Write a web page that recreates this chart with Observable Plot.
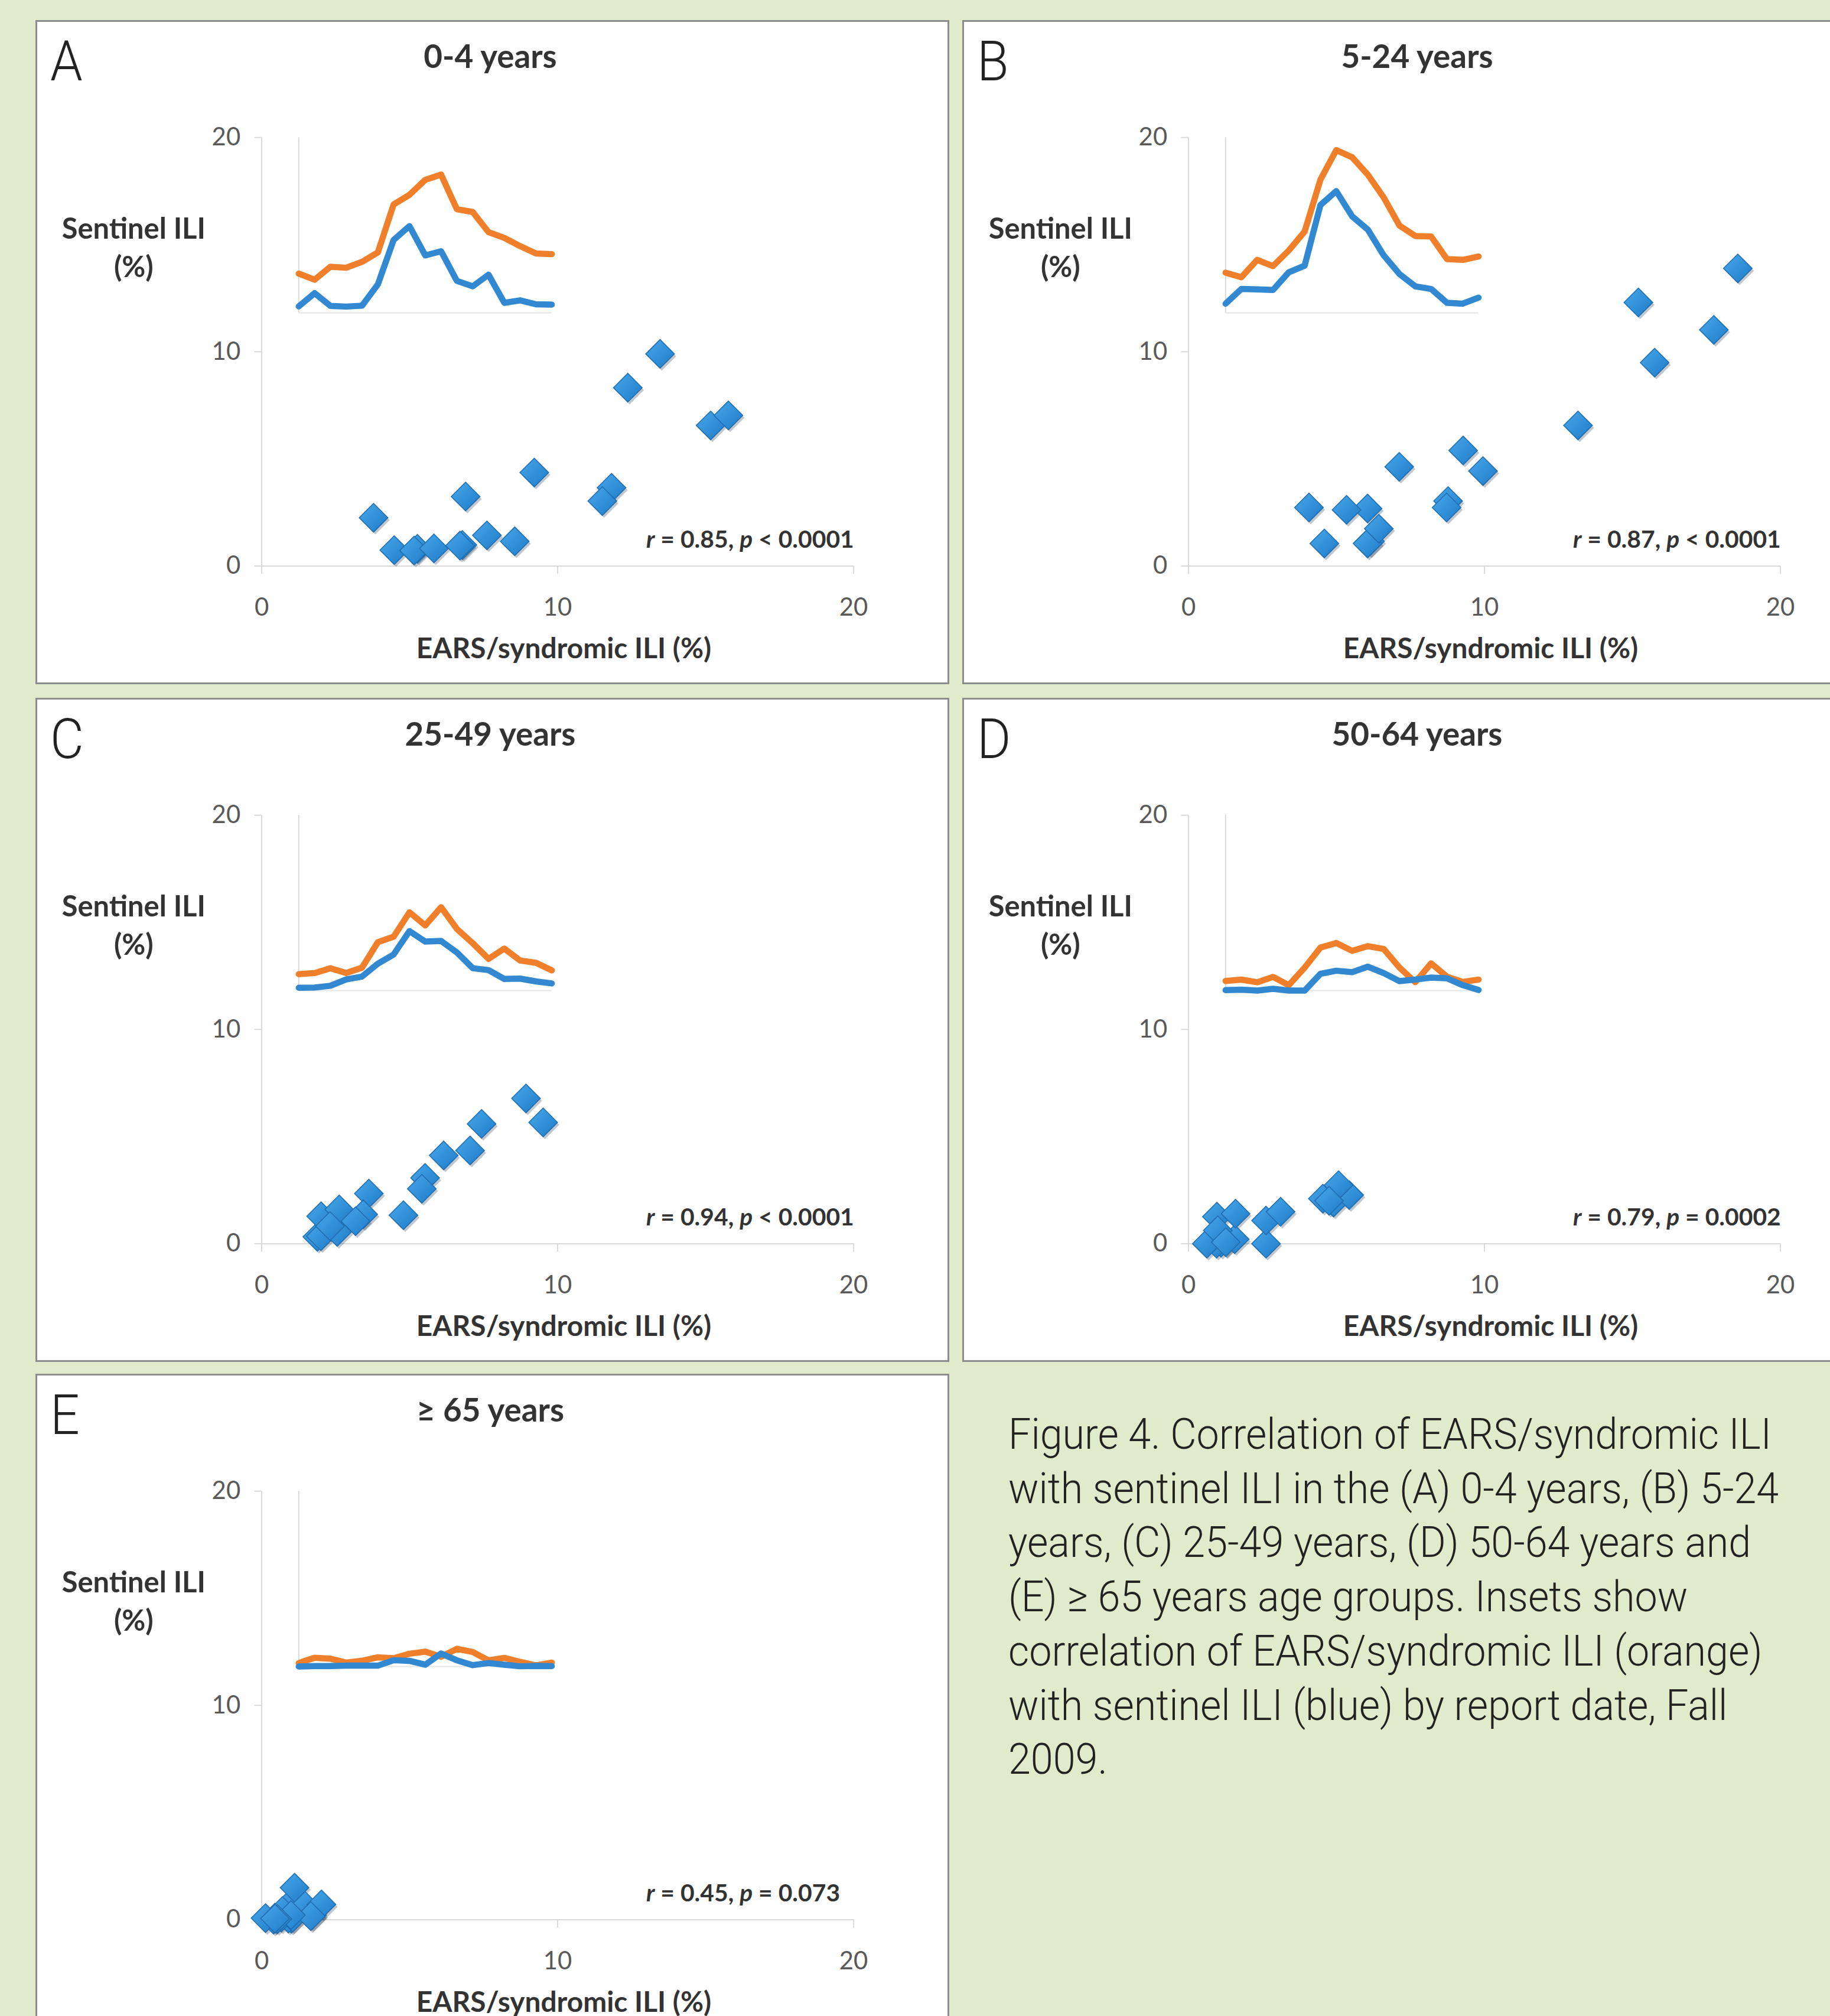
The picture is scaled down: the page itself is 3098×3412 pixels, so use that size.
<!DOCTYPE html>
<html>
<head>
<meta charset="utf-8">
<script src="https://cdn.jsdelivr.net/npm/d3@7"></script>
<script src="https://cdn.jsdelivr.net/npm/@observablehq/plot@0.6"></script>
<style>
  html, body { margin: 0; padding: 0; }
  body { width: 3098px; height: 3412px; background: #dfebca; position: relative; overflow: hidden; }
  .panel { position: absolute; width: 1547px; height: 1124px; background: #ffffff; box-sizing: border-box; border: 3px solid #8c8c8c; }
  .panel svg { position: absolute; left: -3px; top: -3px; }
  #caption { position: absolute; left: 1690px; top: 2330px; }
</style>
</head>
<body>
<svg width="0" height="0" style="position:absolute">
  <defs>
    <linearGradient id="dg" x1="0" y1="0" x2="1" y2="1">
      <stop offset="0%" stop-color="#86c8f4"/>
      <stop offset="22%" stop-color="#3f9de2"/>
      <stop offset="70%" stop-color="#2b89d3"/>
      <stop offset="100%" stop-color="#1a64a8"/>
    </linearGradient>
  </defs>
</svg>
<script>
// ---------- data ----------
const weeks = [1, 2, 3, 4, 5, 6, 7, 8, 9, 10, 11, 12, 13, 14, 15, 16, 17];
const axisTicks = [0, 10, 20];

const panelLetters = ["A", "B", "C", "D", "E"];
const panelTitles = ["0-4 years", "5-24 years", "25-49 years", "50-64 years", "\u2265 65 years"];
const corrR = ["0.85", "0.87", "0.94", "0.79", "0.45"];
const corrP = ["< 0.0001", "< 0.0001", "< 0.0001", "= 0.0002", "= 0.073"];

// EARS/syndromic ILI (%) and sentinel ILI (%) by report week, Fall 2009
const earsA     = [4.48, 3.78, 5.26, 5.15, 5.82, 6.89, 12.37, 13.46, 15.17, 15.77, 11.82, 11.51, 9.21, 8.55, 7.61, 6.78, 6.70];
const sentinelA = [0.74, 2.25, 0.80, 0.72, 0.82, 3.24, 8.32, 9.90, 6.56, 7.03, 3.65, 3.03, 4.36, 1.15, 1.43, 0.98, 0.95];

const earsB     = [4.59, 4.07, 6.05, 5.34, 7.12, 9.28, 15.20, 18.56, 17.75, 15.75, 13.16, 9.95, 8.77, 8.72, 6.13, 6.05, 6.43];
const sentinelB = [1.05, 2.73, 2.68, 2.62, 4.63, 5.39, 12.30, 13.89, 11.02, 9.49, 6.56, 4.43, 3.03, 2.73, 1.15, 1.05, 1.74];

const earsC     = [1.88, 2.00, 2.55, 2.01, 2.62, 5.52, 6.15, 8.93, 7.43, 9.51, 7.04, 5.41, 3.62, 4.79, 3.43, 3.17, 2.31];
const sentinelC = [0.32, 0.35, 0.55, 1.28, 1.60, 3.07, 4.12, 6.78, 5.59, 5.66, 4.35, 2.56, 2.34, 1.33, 1.37, 1.05, 0.82];

const earsD     = [1.10, 1.25, 0.95, 1.56, 0.62, 2.62, 4.90, 5.43, 4.54, 5.07, 4.75, 2.62, 0.96, 3.11, 1.59, 0.99, 1.26];
const sentinelD = [0.05, 0.10, 0.00, 0.21, 0.00, 0.00, 1.92, 2.27, 2.10, 2.73, 2.00, 1.08, 1.26, 1.49, 1.40, 0.62, 0.07];

const earsE     = [0.40, 1.00, 0.90, 0.45, 0.66, 1.05, 0.95, 1.46, 1.70, 1.11, 2.02, 1.66, 0.70, 0.99, 0.53, 0.13, 0.45];
const sentinelE = [0.00, 0.05, 0.05, 0.10, 0.10, 0.10, 0.72, 0.65, 0.21, 1.49, 0.71, 0.16, 0.40, 0.21, 0.03, 0.07, 0.05];

const captionLines = [
  "Figure 4. Correlation of EARS/syndromic ILI",
  "with sentinel ILI in the (A) 0-4 years, (B) 5-24",
  "years, (C) 25-49 years, (D) 50-64 years and",
  "(E) \u2265 65 years age groups. Insets show",
  "correlation of EARS/syndromic ILI (orange)",
  "with sentinel ILI (blue) by report date, Fall",
  "2009."
];

// ---------- layout ----------
const earsSeries = [earsA, earsB, earsC, earsD, earsE];
const sentinelSeries = [sentinelA, sentinelB, sentinelC, sentinelD, sentinelE];
const panelLeft = [60, 1629, 60, 1629, 60];
const panelTop = [34, 34, 1181, 1181, 2325];
const W = 1547, H = 1124;

// ---------- caption (measured to set the condensed width) ----------
const cap = d3.select("body").append("svg").attr("id", "caption")
  .attr("width", 1408).attr("height", 760);
const capTexts = captionLines.map((line, k) =>
  cap.append("text")
    .attr("text-anchor", "start")
    .attr("font-family", "Roboto, 'Open Sans', sans-serif")
    .attr("font-weight", 300)
    .attr("font-size", 73)
    .attr("fill", "#222")
    .text(line)
    .attr("data-y", 122 + k * 91.7)
);
const len0 = capTexts[0].node().getComputedTextLength();
const sx = len0 > 0 ? 1292 / len0 : 0.82;
capTexts.forEach(t => t.attr("transform", `translate(17,${t.attr("data-y")}) scale(${sx},1)`));

// ---------- panels ----------
for (let i = 0; i < 5; i++) {
  const rows = weeks.map((w, k) => ({week: w, ears: earsSeries[i][k], sentinel: sentinelSeries[i][k]}));

  const div = document.createElement("div");
  div.className = "panel";
  div.style.left = panelLeft[i] + "px";
  div.style.top = panelTop[i] + "px";
  document.body.appendChild(div);

  const main = Plot.plot({
    width: W, height: H,
    marginLeft: 384, marginRight: 157, marginTop: 199, marginBottom: 197,
    style: {background: "transparent", overflow: "visible", fontFamily: "Lato, 'Open Sans', sans-serif", fontSize: "42px", color: "#595959"},
    x: {domain: [0, 20], ticks: axisTicks, tickSize: 14, tickPadding: 41, label: null},
    y: {domain: [0, 20], ticks: axisTicks, tickSize: 12, tickPadding: 24, label: null},
    marks: [
      Plot.ruleY([0], {x1: 0, x2: 20, stroke: "#d9d9d9", strokeWidth: 2}),
      Plot.ruleX([0], {y1: 0, y2: 20, stroke: "#d9d9d9", strokeWidth: 2}),
      Plot.dot(rows, {x: "ears", y: "sentinel", symbol: d3.symbolDiamond2, r: 22, fill: "#1d3550", fillOpacity: 0.28, dx: 3, dy: 4}),
      Plot.dot(rows, {x: "ears", y: "sentinel", symbol: d3.symbolDiamond2, r: 22, fill: "url(#dg)", stroke: "#1f6cad", strokeWidth: 1.5})
    ]
  });
  main.querySelectorAll("g[aria-label*='axis'] line, g[aria-label*='axis'] path").forEach(el => {
    el.setAttribute("stroke", "#d9d9d9");
    el.setAttribute("stroke-width", "2");
  });
  div.appendChild(main);

  const inset = Plot.plot({
    width: W, height: H,
    marginLeft: 447, marginRight: 670, marginTop: 199, marginBottom: 627,
    style: {background: "transparent", overflow: "visible"},
    x: {domain: [1, 17], axis: null},
    y: {domain: [0, 20], axis: null},
    marks: [
      Plot.ruleX([1], {stroke: "#d9d9d9", strokeWidth: 2}),
      Plot.ruleY([0], {stroke: "#e3e3e3", strokeWidth: 2}),
      Plot.line(rows, {x: "week", y: "ears", stroke: "#ef7f2b", strokeWidth: 10.5, strokeLinejoin: "round"}),
      Plot.line(rows, {x: "week", y: "sentinel", stroke: "#3389d1", strokeWidth: 10.5, strokeLinejoin: "round"})
    ]
  });
  div.appendChild(inset);

  const s = d3.select(main);
  s.append("text")
    .attr("text-anchor", "start")
    .attr("transform", `translate(25,102) scale(${sx},1)`)
    .attr("font-family", "Roboto, 'Open Sans', sans-serif").attr("font-weight", 300)
    .attr("font-size", 94).attr("fill", "#222")
    .text(panelLetters[i]);
  s.append("text")
    .attr("x", 773).attr("y", 81).attr("text-anchor", "middle")
    .attr("font-family", "Lato, sans-serif").attr("font-weight", 700)
    .attr("font-size", 55).attr("fill", "#333")
    .text(panelTitles[i]);
  const yl = ["Sentinel ILI", "(%)"];
  yl.forEach((t, k) => s.append("text")
    .attr("x", 167).attr("y", 371 + k * 66).attr("text-anchor", "middle")
    .attr("font-family", "Lato, sans-serif").attr("font-weight", 700)
    .attr("font-size", 49).attr("fill", "#333").text(t));
  s.append("text")
    .attr("x", 898).attr("y", 1084).attr("text-anchor", "middle")
    .attr("font-family", "Lato, sans-serif").attr("font-weight", 700)
    .attr("font-size", 48).attr("fill", "#333")
    .text("EARS/syndromic ILI (%)");
  const ann = s.append("text")
    .attr("x", 1038).attr("y", 896).attr("text-anchor", "start")
    .attr("font-family", "Lato, sans-serif").attr("font-weight", 700)
    .attr("font-size", 41).attr("fill", "#333");
  ann.append("tspan").attr("font-style", "italic").text("r");
  ann.append("tspan").text(` = ${corrR[i]}, `);
  ann.append("tspan").attr("font-style", "italic").text("p");
  ann.append("tspan").text(` ${corrP[i]}`);
}
</script>
</body>
</html>
